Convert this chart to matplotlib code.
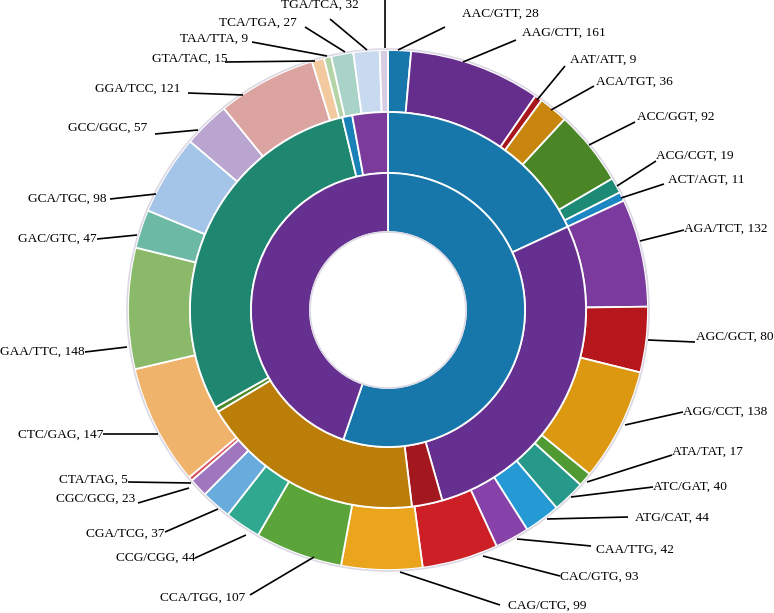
import numpy as np
import matplotlib
matplotlib.use('Agg')
import matplotlib.pyplot as plt

# outer ring: trinucleotide pairs and their counts (clockwise from 12 o'clock)
outer_labels = ['AAC/GTT', 'AAG/CTT', 'AAT/ATT', 'ACA/TGT', 'ACC/GGT', 'ACG/CGT',
                'ACT/AGT', 'AGA/TCT', 'AGC/GCT', 'AGG/CCT', 'ATA/TAT', 'ATC/GAT',
                'ATG/CAT', 'CAA/TTG', 'CAC/GTG', 'CAG/CTG', 'CCA/TGG', 'CCG/CGG',
                'CGA/TCG', 'CGC/GCG', 'CTA/TAG', 'CTC/GAG', 'GAA/TTC', 'GAC/GTC',
                'GCA/TGC', 'GCC/GGC', 'GGA/TCC', 'GTA/TAC', 'TAA/TTA', 'TCA/TGA',
                'TGA/TCA', '']
outer_counts = [28, 161, 9, 36, 92, 19, 11, 132, 80, 138, 17, 40, 44, 42, 93, 99,
                107, 44, 37, 23, 5, 147, 148, 47, 98, 57, 121, 15, 9, 27, 32, 10]

# middle and inner rings (same units)
middle_counts = [356, 541, 49, 361, 8, 580, 16, 57]
inner_counts = [1088, 880]

outer_colors = ['#1877aa', '#652d8c', '#a8161e', '#c8860e', '#4a8526', '#1d8a76',
                '#1b86c2', '#7b3b9e', '#b5171d', '#dc9810', '#4f9a33', '#26998a',
                '#2499d4', '#8642a8', '#cc1f26', '#eaa51c', '#5aa43a', '#30a890',
                '#68acdd', '#a077bf', '#d9505a', '#f0b36b', '#8ab96a', '#6cbaa6',
                '#a4c4e8', '#b9a5cf', '#dca4a0', '#f3c9a0', '#b4d4a8', '#a8d3c6',
                '#c8daf0', '#d7cde2']
middle_colors = ['#1877aa', '#65308f', '#a3181e', '#bb7e09', '#4b8a2a', '#1f8670',
                 '#1a80b8', '#7a3b9c']
inner_colors = ['#1877aa', '#65308f']

# label layout in pixels (y from top): text anchor, leader line text end, wedge end
label_xy = [(462, 14), (522, 33), (570, 60), (596, 82), (637, 117), (656, 156),
            (668, 180), (684, 229), (696, 337), (683, 412), (672, 452), (653, 487),
            (635, 518), (596, 550), (560, 577), (508, 606),
            (245, 598), (195, 558), (165, 534), (135, 499), (128, 480), (103, 435),
            (85, 352), (97, 239), (107, 199), (147, 128), (180, 89), (228, 59),
            (248, 39), (297, 23), (359, 5), (385, -20)]
leader = [((445, 27), (398, 50)), ((516, 40), (463, 62)), ((565, 66), (537, 100)),
          ((594, 86), (551, 110)), ((635, 122), (589, 145)), ((656, 161), (617, 186)),
          ((664, 184), (621, 198)), ((684, 230), (640, 241)), ((695, 342), (648, 340)),
          ((683, 412), (625, 425)), ((672, 455), (587, 482)), ((653, 487), (571, 497)),
          ((628, 517), (547, 519)), ((591, 546), (517, 539)), ((560, 576), (483, 556)),
          ((500, 605), (400, 572)),
          ((250, 595), (314, 557)), ((195, 558), (246, 535)), ((165, 532), (218, 509)),
          ((138, 503), (189, 488)), ((128, 482), (191, 483)), ((103, 434), (158, 434)),
          ((85, 352), (127, 347)), ((97, 239), (137, 235)), ((110, 199), (156, 194)),
          ((155, 134), (198, 130)), ((188, 93), (243, 95)), ((225, 62), (315, 61)),
          ((252, 42), (327, 56)), ((305, 27), (345, 52)), ((330, 19), (367, 50)),
          ((385, 0), (385, 48))]

W, H = 774, 613
cx, cy = 388, H - 310
R = 260

fig = plt.figure(figsize=(7.74, 6.13), dpi=100)
ax = fig.add_axes([0, 0, 1, 1])

edge = dict(edgecolor='white', linewidth=1.3)
ax.pie(outer_counts, colors=outer_colors, radius=R, center=(cx, cy),
       startangle=90, counterclock=False, wedgeprops=dict(width=62, **edge))
ax.pie(middle_counts, colors=middle_colors, radius=198, center=(cx, cy),
       startangle=90, counterclock=False, wedgeprops=dict(width=61, **edge))
ax.pie(inner_counts, colors=inner_colors, radius=137, center=(cx, cy),
       startangle=90, counterclock=False, wedgeprops=dict(width=59, **edge))

# faint halo around the outer edge and the hole
for r in (R + 1, 78):
    ax.add_patch(plt.Circle((cx, cy), r, fill=False, ec='#dcd8e4', lw=1.2))

for i, (lab, n) in enumerate(zip(outer_labels, outer_counts)):
    (x0, y0), (x1, y1) = leader[i]
    ax.plot([x0, x1], [H - y0, H - y1], color='black', lw=1.2, solid_capstyle='butt')
    if not lab:
        continue
    tx, ty = label_xy[i]
    ha = 'left' if i < 16 else 'right'
    ax.text(tx, H - ty, f'{lab}, {n}', ha=ha, va='center', fontsize=9.6,
            family='Liberation Serif', color='black')

ax.set_xlim(0, W)
ax.set_ylim(0, H)
ax.set_aspect('equal')
ax.set_axis_off()

fig.savefig('out.png', dpi=100)
